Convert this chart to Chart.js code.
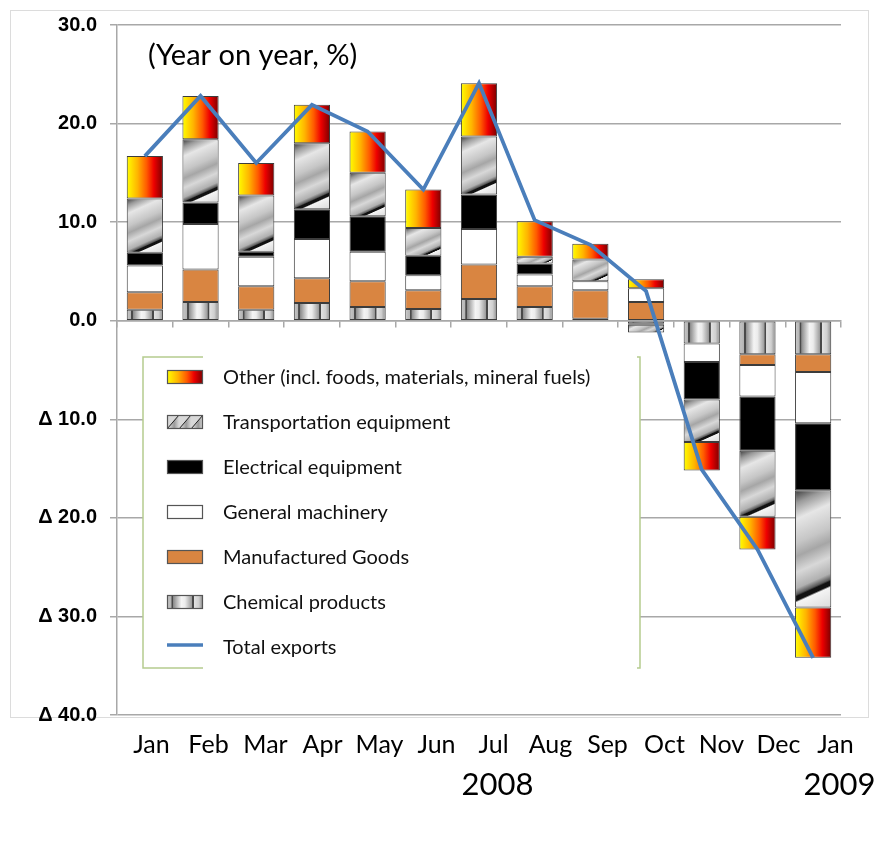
<!DOCTYPE html>
<html>
<head>
<meta charset="utf-8">
<title>Exports by commodity</title>
<script src="https://cdn.jsdelivr.net/npm/chart.js@4.4.1/dist/chart.umd.min.js"></script>
<style>
  html, body { margin: 0; padding: 0; background: #ffffff; }
  #wrap { width: 894px; height: 861px; position: relative; }
</style>
</head>
<body>
<div id="wrap"><canvas id="chart" width="894" height="861"></canvas></div>
<script>
// Categories (months) and the year printed under selected months
const months = ['Jan', 'Feb', 'Mar', 'Apr', 'May', 'Jun', 'Jul', 'Aug', 'Sep', 'Oct', 'Nov', 'Dec', 'Jan'];
const years  = ['', '', '', '', '', '', '2008', '', '', '', '', '', '2009'];

// Contributions to year-on-year change, percentage points
const chemical     = [1.1, 1.9, 1.1, 1.8, 1.4, 1.2, 2.2, 1.4, 0.2, -0.3, -2.3, -3.4, -3.4];
const manufactured = [1.8, 3.3, 2.4, 2.5, 2.6, 1.9, 3.5, 2.1, 2.9, 1.9, 0.0, -1.1, -1.8];
const machinery    = [2.7, 4.6, 3.0, 4.0, 3.0, 1.5, 3.6, 1.2, 0.9, 1.4, -1.9, -3.2, -5.2];
const electrical   = [1.3, 2.2, 0.5, 3.0, 3.6, 2.0, 3.5, 1.1, 0.0, -0.1, -3.8, -5.5, -6.8];
const transport    = [5.5, 6.4, 5.7, 6.7, 4.4, 2.8, 5.9, 0.7, 2.2, -0.8, -4.3, -6.7, -11.9];
const other        = [4.3, 4.4, 3.3, 3.9, 4.2, 3.9, 5.4, 3.6, 1.6, 0.9, -2.9, -3.3, -5.1];
const totalExports = [16.7, 22.8, 16.0, 21.9, 19.2, 13.3, 24.1, 10.2, 7.7, 3.0, -15.1, -23.2, -34.2];

// Value axis
const yMin = -40, yMax = 30, yStep = 10;

const BAR_PCT = 0.65;
const OUTLINE = '#3c3c3c';

// ---- fills ---------------------------------------------------------------
function barGeometry(chart, dataIndex) {
  const xs = chart.scales.x;
  const cw = xs.width / chart.data.labels.length;
  const w = cw * BAR_PCT;
  const cx = xs.getPixelForValue(dataIndex);
  return { left: cx - w / 2, width: w };
}

function segmentPixels(chart, datasetIndex, dataIndex) {
  const ys = chart.scales.y;
  const v = chart.data.datasets[datasetIndex].data[dataIndex];
  let base = 0;
  for (let k = 0; k < datasetIndex; k++) {
    const ds = chart.data.datasets[k];
    if (ds.type === 'line') continue;
    const u = ds.data[dataIndex];
    if ((u < 0) === (v < 0)) base += u;
  }
  const a = ys.getPixelForValue(base), b = ys.getPixelForValue(base + v);
  return { top: Math.min(a, b), bottom: Math.max(a, b) };
}

function warmGradient(c, left, width) {
  const g = c.createLinearGradient(left, 0, left + width, 0);
  g.addColorStop(0.00, '#ffff00');
  g.addColorStop(0.30, '#ffb400');
  g.addColorStop(0.55, '#ff5a00');
  g.addColorStop(0.75, '#ee0000');
  g.addColorStop(1.00, '#7a0000');
  return g;
}

function cylinderGradient(c, left, width) {
  const g = c.createLinearGradient(left, 0, left + width, 0);
  const stops = [
    [0.00, '#c8c8c8'], [0.12, '#b4b4b4'], [0.13, '#4a4a4a'], [0.17, '#4a4a4a'],
    [0.18, '#8c8c8c'], [0.40, '#f4f4f4'], [0.50, '#ececec'], [0.69, '#9a9a9a'],
    [0.70, '#484848'], [0.74, '#484848'], [0.75, '#e2e2e2'], [0.88, '#cfcfcf'],
    [1.00, '#8a8a8a']
  ];
  stops.forEach(s => g.addColorStop(s[0], s[1]));
  return g;
}

function diagonalGradient(c, left, top, width, height) {
  const s = 0.45;
  const k = (s * width + height) / (1 + s * s);
  const g = c.createLinearGradient(left, top, left + s * k, top + k);
  const stops = [
    [0.00, '#3a3a3a'], [0.10, '#9a9a9a'], [0.22, '#e6e6e6'], [0.40, '#c6c6c6'],
    [0.50, '#a6a6a6'], [0.62, '#d8d8d8'], [0.74, '#b0b0b0'], [0.785, '#5a5a5a'],
    [0.80, '#111111'], [0.83, '#111111'], [0.845, '#f4f4f4'], [1.00, '#dadada']
  ];
  stops.forEach(st => g.addColorStop(st[0], st[1]));
  return g;
}

const FALLBACK = { warm: '#ff6a00', cylinder: '#bbbbbb', diag: '#c8c8c8' };

function fillFor(kind) {
  return (ctx) => {
    if (ctx.type !== 'data') return FALLBACK[kind];
    const chart = ctx.chart;
    if (!chart.scales.x || !chart.scales.y || !chart.chartArea) return FALLBACK[kind];
    const c = chart.ctx;
    const geo = barGeometry(chart, ctx.dataIndex);
    if (!isFinite(geo.left) || !isFinite(geo.width) || geo.width <= 0) return FALLBACK[kind];
    if (kind === 'warm') return warmGradient(c, geo.left, geo.width);
    if (kind === 'cylinder') return cylinderGradient(c, geo.left, geo.width);
    const seg = segmentPixels(chart, ctx.datasetIndex, ctx.dataIndex);
    if (!isFinite(seg.top) || !isFinite(seg.bottom)) return FALLBACK[kind];
    return diagonalGradient(c, geo.left, seg.top, geo.width, Math.max(seg.bottom - seg.top, 4));
  };
}

function barSet(label, data, fill, kind) {
  return {
    type: 'bar',
    label: label,
    data: data,
    backgroundColor: kind ? fillFor(kind) : fill,
    borderColor: OUTLINE,
    borderWidth: 1,
    borderSkipped: false,
    barPercentage: BAR_PCT,
    categoryPercentage: 1.0,
    order: 1,
    swatch: kind || fill
  };
}

// ---- text helpers ----------------------------------------------------------
const TEXT_FONT = "Lato, 'Open Sans', 'Noto Sans', sans-serif";
const AXIS_FONT = "'Liberation Sans Narrow', 'Liberation Sans', Arial, sans-serif";

function yLabel(v) {
  return v >= 0 ? v.toFixed(1) : '\u0394 ' + (-v).toFixed(1);
}

// ---- plugins --------------------------------------------------------------
const frame = {
  id: 'frame',
  beforeDraw(chart) {
    const c = chart.ctx;
    c.save();
    c.fillStyle = '#ffffff';
    c.fillRect(0, 0, chart.width, chart.height);
    c.strokeStyle = '#dcdcdc';
    c.lineWidth = 1;
    c.strokeRect(10.5, 10.5, 858, 707);
    c.restore();
  }
};

// The month row is set a little wider than the plot, spanning to the frame edge
const monthRow = {
  id: 'monthRow',
  afterLayout(chart) {
    const xs = chart.scales.xl;
    xs.left = 123;
    xs.right = 864;
    xs.width = xs.right - xs.left;
    xs.configure();
  }
};

const subtitle = {
  id: 'subtitle',
  afterDraw(chart) {
    const c = chart.ctx;
    c.save();
    c.fillStyle = '#000000';
    c.font = '29px ' + TEXT_FONT;
    c.textAlign = 'left';
    c.textBaseline = 'middle';
    c.fillText('(Year on year, %)', 148, 56);
    c.restore();
  }
};

const yearRow = {
  id: 'yearRow',
  afterDraw(chart) {
    const xs = chart.scales.xl;
    const c = chart.ctx;
    c.save();
    c.fillStyle = '#000000';
    c.font = '31px ' + TEXT_FONT;
    c.textAlign = 'center';
    c.textBaseline = 'middle';
    years.forEach((t, i) => { if (t) c.fillText(t, xs.getPixelForValue(i) + 4, 785); });
    c.restore();
  }
};

const boxLegend = {
  id: 'boxLegend',
  afterDatasetsDraw(chart) {
    const c = chart.ctx;
    const box = { l: 143, t: 357, r: 640, b: 668 };
    c.save();
    c.fillStyle = '#ffffff';
    c.fillRect(box.l, box.t, box.r - box.l, box.b - box.t);
    c.strokeStyle = '#b5cc8e';
    c.lineWidth = 1.5;
    c.beginPath();
    c.moveTo(203, box.t); c.lineTo(box.l, box.t); c.lineTo(box.l, box.b); c.lineTo(203, box.b);
    c.moveTo(box.r - 3, box.t); c.lineTo(box.r, box.t); c.lineTo(box.r, box.b); c.lineTo(box.r - 3, box.b);
    c.stroke();

    const bars = chart.data.datasets.filter(d => d.type === 'bar').reverse();
    const lines = chart.data.datasets.filter(d => d.type === 'line');
    const items = bars.concat(lines);
    const sx = 167, sw = 36, sh = 14, tx = 223, y0 = 378, dy = 45;
    c.font = '20px ' + TEXT_FONT;
    c.textBaseline = 'middle';
    c.textAlign = 'left';
    items.forEach((ds, i) => {
      const y = y0 + i * dy;
      if (ds.type === 'line') {
        c.strokeStyle = ds.borderColor;
        c.lineWidth = 3.5;
        c.beginPath(); c.moveTo(sx, y - 3); c.lineTo(sx + sw, y - 3); c.stroke();
      } else {
        const top = y - sh / 2 - 1;
        let fill = ds.swatch;
        if (fill === 'warm') fill = warmGradient(c, sx, sw);
        else if (fill === 'cylinder') fill = cylinderGradient(c, sx, sw);
        if (fill === 'diag') {
          c.fillStyle = '#cfcfcf';
          c.fillRect(sx, top, sw, sh);
          c.save();
          c.beginPath(); c.rect(sx, top, sw, sh); c.clip();
          for (let k = -1; k < 4; k++) {
            const x0 = sx + k * 12;
            const g = c.createLinearGradient(x0, 0, x0 + 12, 0);
            g.addColorStop(0, '#f0f0f0'); g.addColorStop(0.6, '#9a9a9a'); g.addColorStop(1, '#d8d8d8');
            c.fillStyle = g;
            c.beginPath();
            c.moveTo(x0, top + sh); c.lineTo(x0 + 12, top + sh); c.lineTo(x0 + 24, top); c.lineTo(x0 + 12, top);
            c.closePath(); c.fill();
            c.strokeStyle = '#222222'; c.lineWidth = 1;
            c.beginPath(); c.moveTo(x0, top + sh); c.lineTo(x0 + 12, top); c.stroke();
          }
          c.restore();
        } else {
          c.fillStyle = fill;
          c.fillRect(sx, top, sw, sh);
        }
        c.strokeStyle = '#555555';
        c.lineWidth = 1.2;
        c.strokeRect(sx + 0.5, top + 0.5, sw - 1, sh - 1);
      }
      c.fillStyle = '#111111';
      c.fillText(ds.label, tx, y);
    });
    c.restore();
  }
};

// ---- chart ----------------------------------------------------------------
const ctx = document.getElementById('chart').getContext('2d');
new Chart(ctx, {
  data: {
    labels: months,
    datasets: [
      barSet('Chemical products', chemical, null, 'cylinder'),
      barSet('Manufactured Goods', manufactured, '#d98541', null),
      barSet('General machinery', machinery, '#ffffff', null),
      barSet('Electrical equipment', electrical, '#000000', null),
      barSet('Transportation equipment', transport, null, 'diag'),
      barSet('Other (incl. foods, materials, mineral fuels)', other, null, 'warm'),
      {
        type: 'line',
        label: 'Total exports',
        data: totalExports,
        stack: 'total',
        borderColor: '#4a7ebb',
        borderWidth: 3.8,
        pointRadius: 0,
        pointHoverRadius: 0,
        tension: 0,
        fill: false,
        order: 0
      }
    ]
  },
  options: {
    responsive: false,
    animation: false,
    devicePixelRatio: 1,
    layout: { padding: { top: 24, right: 53, left: 0, bottom: 0 } },
    plugins: {
      legend: { display: false },
      tooltip: { enabled: false },
      title: { display: false }
    },
    scales: {
      x: {
        type: 'category',
        stacked: true,
        offset: true,
        position: { y: 0 },
        grid: { offset: true, drawOnChartArea: false, drawTicks: true, tickLength: 6, color: '#a8a8a8', lineWidth: 1.5 },
        border: { display: true, color: '#a8a8a8', width: 1.5 },
        ticks: { display: false }
      },
      xl: {
        type: 'category',
        position: 'bottom',
        offset: true,
        grid: { display: false, drawTicks: false },
        border: { display: false },
        ticks: {
          padding: 15,
          color: '#000000',
          maxRotation: 0,
          autoSkip: false,
          font: { family: TEXT_FONT, size: 25 }
        },
        afterFit(scale) { scale.height = 146; }
      },
      y: {
        type: 'linear',
        stacked: true,
        min: yMin,
        max: yMax,
        grid: { color: '#a8a8a8', lineWidth: 1.5, tickLength: 7 },
        border: { display: true, color: '#a8a8a8', width: 1.5 },
        ticks: {
          stepSize: yStep,
          padding: 13,
          color: '#000000',
          font: { family: AXIS_FONT, size: 20, weight: 'bold' },
          callback: (v) => yLabel(v)
        },
        afterFit(scale) { scale.width = 117; }
      }
    }
  },
  plugins: [frame, monthRow, boxLegend, subtitle, yearRow]
});
</script>
</body>
</html>
